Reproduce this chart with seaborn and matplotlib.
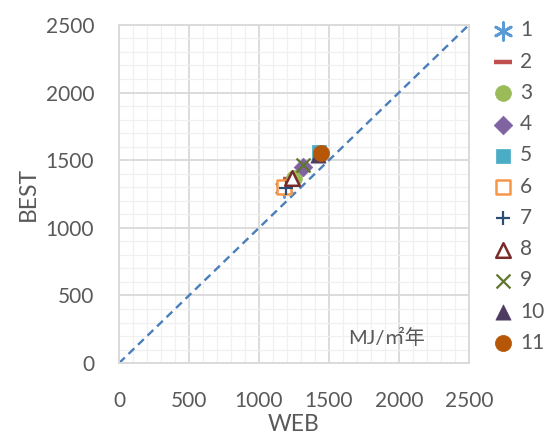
import matplotlib
matplotlib.use("Agg")
import matplotlib.pyplot as plt
import seaborn as sns
import pandas as pd

sns.set_theme(style="white")
plt.rcParams['font.family'] = ['Lato', 'Noto Sans CJK JP', 'DejaVu Sans']

series = ["1", "2", "3", "4", "5", "6", "7", "8", "9", "10", "11"]
web = [1180, 1235, 1250, 1316, 1430, 1180, 1190, 1234, 1316, 1420, 1441]
best = [1292, 1360, 1371, 1447, 1561, 1304, 1298, 1366, 1464, 1540, 1551]

colors = ["#5B9BD5", "#C0504D", "#9BBB59", "#8064A2", "#4BACC6", "#F79646",
          "#2C4D75", "#772C2A", "#5F7530", "#4D3B62", "#B65708"]
markers = [(6, 2, 0), "_", "o", "D", "s", "s", "+", "^", "x", "^", "o"]
open_face = [False, False, False, False, False, True, False, True, False, False, False]
sizes = [160, 150, 130, 90, 110, 100, 110, 110, 100, 120, 135]

df = pd.DataFrame({"WEB": web, "BEST": best, "series": series})

fig, ax = plt.subplots(figsize=(5.51, 4.37), dpi=100)
fig.subplots_adjust(left=0.216, right=0.851, bottom=0.169, top=0.943)

# 1:1 reference line
ax.plot([0, 2500], [0, 2500], ls=(0, (3.4, 2.2)), color="#4A7EBB", lw=1.7, zorder=2)

for i, name in enumerate(series):
    sub = df[df["series"] == name]
    m = markers[i]
    line_art = m in ("+", "x", "_") or isinstance(m, tuple)
    if line_art:
        lw = 3.2 if m == "_" else (2.0 if isinstance(m, tuple) else 1.6)
        sns.scatterplot(data=sub, x="WEB", y="BEST", marker=m, s=sizes[i],
                        color=colors[i], linewidth=lw,
                        ax=ax, label=name, zorder=3)
    elif open_face[i]:
        sns.scatterplot(data=sub, x="WEB", y="BEST", marker=m, s=sizes[i],
                        facecolor="white", edgecolor=colors[i], linewidth=1.8,
                        ax=ax, label=name, zorder=3)
    else:
        sns.scatterplot(data=sub, x="WEB", y="BEST", marker=m, s=sizes[i],
                        color=colors[i], edgecolor=colors[i], linewidth=0.5,
                        ax=ax, label=name, zorder=3)

ax.set_xlim(0, 2500)
ax.set_ylim(0, 2500)
ax.set_xticks(range(0, 2501, 500))
ax.set_yticks(range(0, 2501, 500))
ax.set_xticks(range(0, 2501, 100), minor=True)
ax.set_yticks(range(0, 2501, 100), minor=True)
ax.grid(which="major", color="#D9D9D9", lw=1.3)
ax.grid(which="minor", color="#F0F0F0", lw=0.9)
ax.set_axisbelow(True)
for sp in ax.spines.values():
    sp.set_color("#D9D9D9")
    sp.set_linewidth(1.3)
ax.tick_params(which="both", length=0, labelsize=15, colors="#595959")
ax.tick_params(axis="x", pad=20)
ax.tick_params(axis="y", pad=18)

ax.set_xlabel("WEB", fontsize=16.5, color="#595959", labelpad=2)
ax.set_ylabel("BEST", fontsize=16.5, color="#595959", labelpad=5)

ax.text(1640, 192, "MJ/㎡年", fontsize=14.5, color="#595959",
        va="center", ha="left")

leg = ax.legend(loc="upper left", bbox_to_anchor=(1.045, 1.038), frameon=False,
                fontsize=15, handletextpad=0.3, labelspacing=0.54,
                borderaxespad=0, handlelength=1.0, markerscale=1.0)
for t in leg.get_texts():
    t.set_color("#595959")

fig.savefig("out.png", dpi=100)
